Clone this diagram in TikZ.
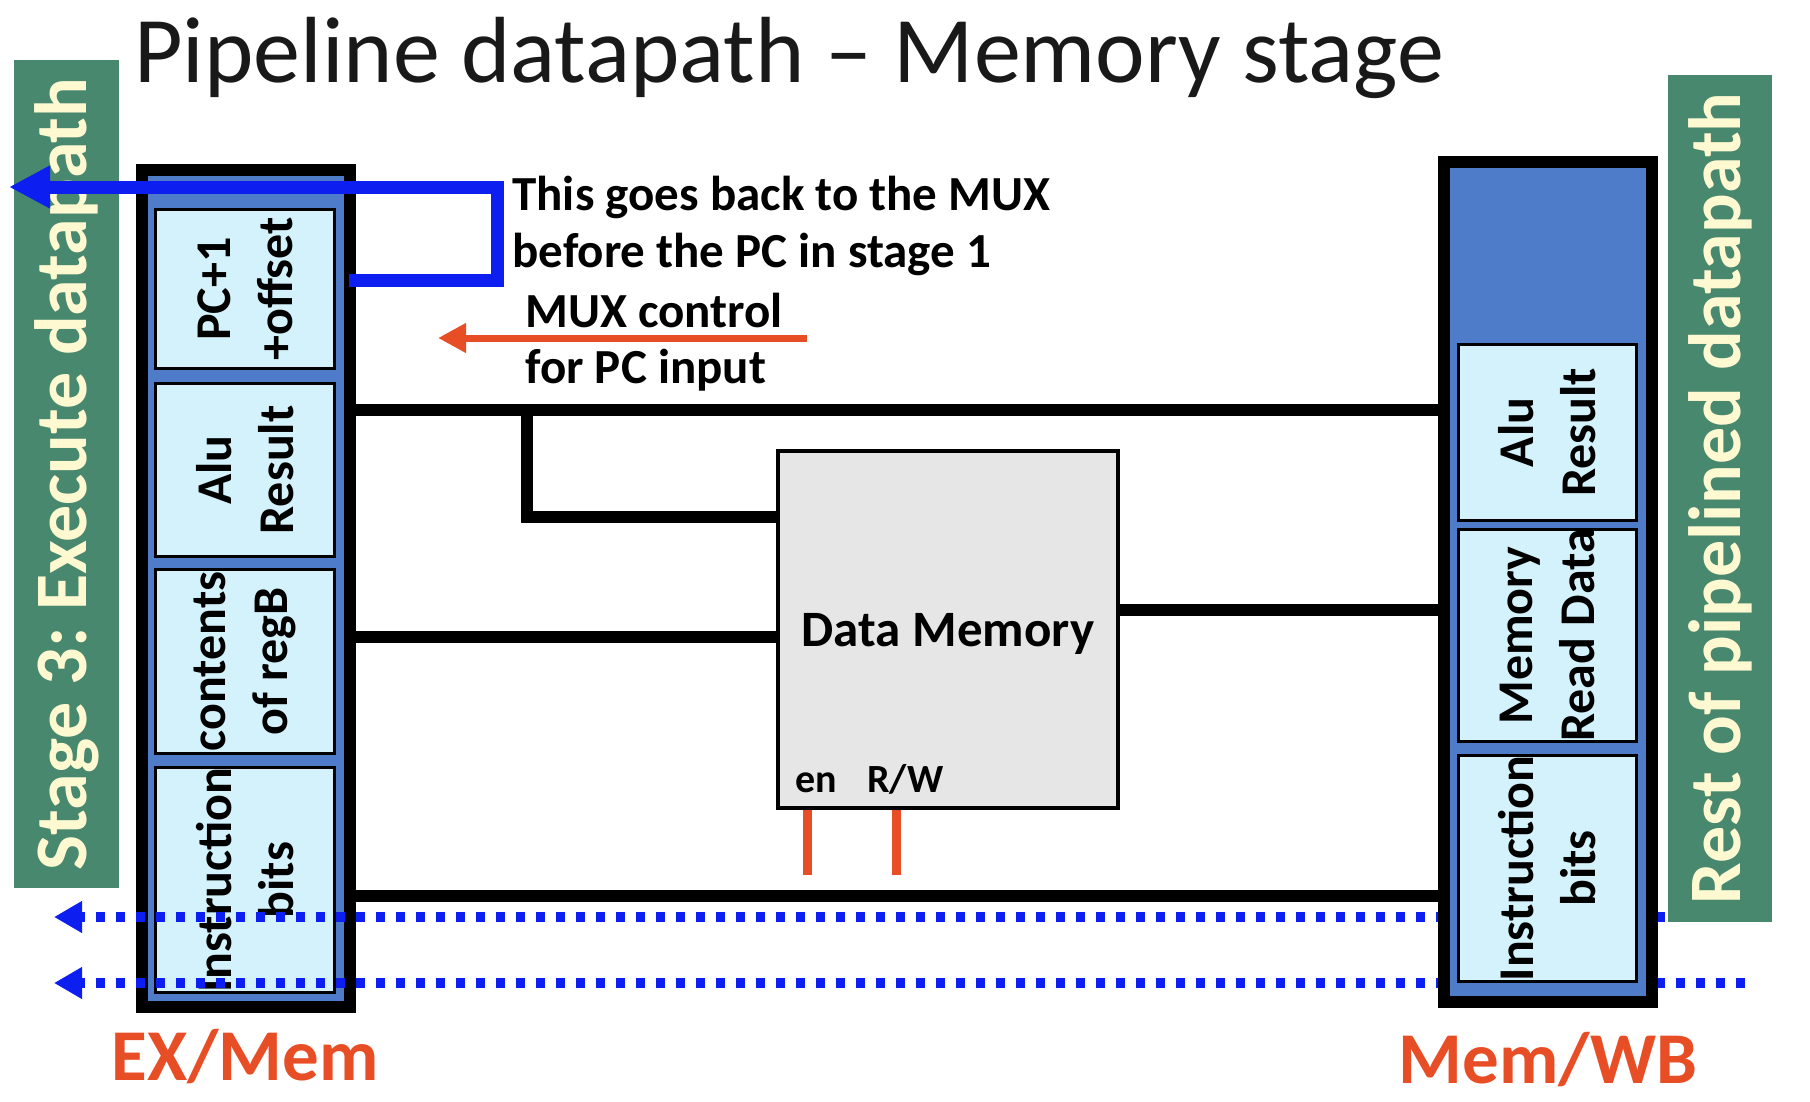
\documentclass[tikz,border=0pt]{standalone}
\usepackage{fontspec}
\setmainfont{Carlito}
\usepackage{tikz}
\usetikzlibrary{positioning, arrows.meta}
\usepackage{xcolor}

\definecolor{bargreen}{RGB}{72,136,110}
\definecolor{barcream}{RGB}{255,249,210}
\definecolor{regblue}{RGB}{79,124,200}
\definecolor{fieldcyan}{RGB}{211,242,252}
\definecolor{ctrlorange}{RGB}{232,78,38}
\definecolor{backblue}{RGB}{12,30,240}
\definecolor{memgray}{RGB}{231,230,230}

\begin{document}
\frenchspacing
\begin{tikzpicture}[x=0.5pt, y=-0.5pt, line join=miter,
  pipereg/.style={rectangle, draw=black, line width=6pt, fill=regblue, inner sep=0pt},
  field/.style={rectangle, draw=black, line width=1.5pt, fill=fieldcyan, inner sep=0pt,
    rotate=90, align=center, font=\fontsize{25}{31}\selectfont\bfseries},
  stagebar/.style={rectangle, fill=bargreen, text=barcream, inner sep=0pt, rotate=90,
    font=\fontsize{37}{44}\selectfont\bfseries},
  memblock/.style={rectangle, draw=black, line width=2pt, fill=memgray, inner sep=0pt,
    minimum width=170pt, minimum height=178.5pt, text depth=0pt,
    font=\fontsize{25.5}{31}\selectfont\bfseries},
  wire/.style={draw=black, line width=6pt},
  backwire/.style={draw=backblue, line width=6.5pt, -{Triangle[length=20.5pt, width=20pt]}},
  busback/.style={draw=backblue, line width=5pt, dash pattern=on 4.5pt off 5.5pt,
    -{Triangle[length=14pt, width=15pt]}},
  ctrlwire/.style={draw=ctrlorange, line width=3.5pt, -{Triangle[length=14pt, width=14pt]}},
  pinwire/.style={draw=ctrlorange, line width=4.5pt},
  note/.style={anchor=base west, inner sep=0pt, font=\fontsize{24.5}{29}\selectfont\bfseries},
  pinlabel/.style={anchor=base west, inner sep=0pt, font=\fontsize{20}{24}\selectfont\bfseries},
  reglabel/.style={anchor=base, inner sep=0pt, text=ctrlorange, font=\fontsize{36.5}{44}\selectfont\bfseries}]
  \useasboundingbox (0,0) rectangle (1810,1102);

  % title
  \node[anchor=base west, inner sep=0pt, font=\fontsize{47}{56}\selectfont, text=black!90]
    (title) at (134,83) {Pipeline datapath – Memory stage};

  % stage 3 side bar
  \node[stagebar, minimum width=414pt, minimum height=52.5pt] (stage3) at (66.5,474) {Stage 3: Execute datapath};

  % EX/Mem register
  \node[pipereg, minimum width=104pt, minimum height=418.5pt] (exmem) at (246,588.5) {};
  \node[field, minimum width=79.5pt, minimum height=89.5pt] (expc) at (245,289) {PC+1\\+offset};
  \node[field, minimum width=86.5pt, minimum height=89.5pt] (exalu) at (245,470) {Alu\\Result};
  \node[field, minimum width=92pt, minimum height=89.5pt] (exregb) at (245,661.5) {contents\\of regB};
  \node[field, minimum width=110.5pt, minimum height=89.5pt] (exinstr) at (245,880) {Instruction\\bits};
  \node[reglabel] (exlabel) at (245,1080) {EX/Mem};

  % values sent back to earlier stages
  \coordinate (wbret1) at (1665,917);
  \coordinate (exret1) at (54,917);
  \coordinate (wbret2) at (1745,983);
  \coordinate (exret2) at (54,983);
  \draw[busback] (wbret1) -- (exret1);
  \draw[busback] (wbret2) -- (exret2);

  % Mem/WB register
  \node[pipereg, minimum width=104pt, minimum height=420pt] (memwb) at (1548,582) {};
  \node[field, minimum width=88pt, minimum height=89pt] (wbalu) at (1547.5,432.5) {Alu\\Result};
  \node[field, minimum width=106pt, minimum height=89pt] (wbread) at (1547.5,635.5) {Memory\\Read Data};
  \node[field, minimum width=107pt, minimum height=89pt] (wbinstr) at (1547.5,868.5) {Instruction\\bits};
  \node[reglabel] (wblabel) at (1548,1083) {Mem/WB};

  % rest side bar
  \node[stagebar, minimum width=423.5pt, minimum height=52pt] (rest) at (1720,498.5) {Rest of pipelined datapath};

  % data memory
  \node[memblock] (dm) at (948,629.5) {Data Memory};
  \node[pinlabel] (en) at (795,792) {en};
  \node[pinlabel] (rw) at (867,792) {R/W};
  \coordinate (enend) at (807,875);
  \coordinate (rwend) at (896,875);
  \draw[pinwire] (dm.south -| enend) -- (enend);
  \draw[pinwire] (dm.south -| rwend) -- (rwend);

  % datapath wires
  \coordinate (aluy) at (0,410);
  \coordinate (tap) at (527,410);
  \coordinate (addr) at ([yshift=56.25pt]dm.west);
  \coordinate (din) at ([yshift=-3.75pt]dm.west);
  \coordinate (dout) at ([yshift=9.75pt]dm.east);
  \coordinate (insty) at (0,896);
  \draw[wire] (exmem.east |- aluy) -- (memwb.west |- aluy);
  \draw[wire] (tap) |- (addr);
  \draw[wire] (exmem.east |- din) -- (din);
  \draw[wire] (dout) -- (memwb.west |- dout);
  \draw[wire] (exmem.east |- insty) -- (memwb.west |- insty);

  % branch target back to stage 1
  \coordinate (pcout) at (349,280);
  \coordinate (pcturn) at (497,280);
  \coordinate (muxin) at (9,187);
  \draw[backwire] (pcout) -- (pcturn) |- (muxin);
  \node[note] (back1) at (512,210) {This goes back to the MUX};
  \node[note] (back2) at (512,267) {before the PC in stage 1};

  % mux control
  \coordinate (ctrlsrc) at (807,338);
  \coordinate (ctrldst) at (438,338);
  \draw[ctrlwire] (ctrlsrc) -- (ctrldst);
  \node[note] (ctrl1) at (525,327) {MUX control};
  \node[note] (ctrl2) at (525,383) {for PC input};
\end{tikzpicture}
\end{document}
